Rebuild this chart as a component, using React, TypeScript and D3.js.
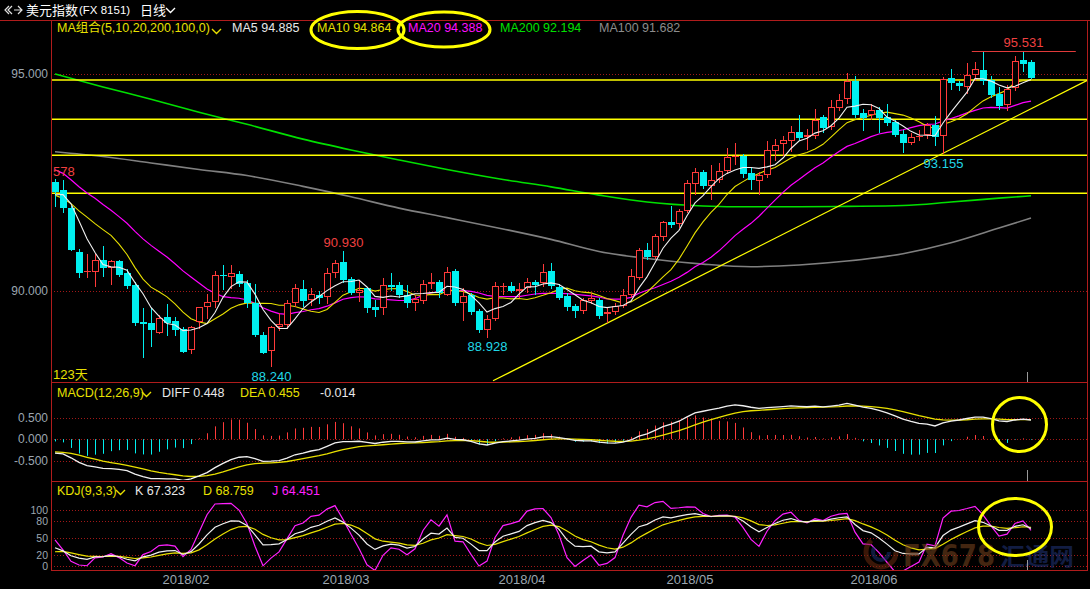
import React from 'react';
import * as d3 from 'd3';

const FONT = '"Liberation Sans", Arial, "Noto Sans CJK SC", sans-serif';

// ---------- data ----------
const firstDay = '2018-01-10';
const lastDay = '2018-06-29';

const open = [92.52, 92.33, 91.91, 90.91, 90.43, 90.44, 90.71, 90.52, 90.69, 90.42,
  90.14, 89.29, 89.26, 89.04, 89.39, 89.32, 89.12, 88.63, 89.29, 89.62,
  89.75, 90.37, 90.33, 90.39, 90.18, 89.72, 88.99, 88.62, 89.17, 89.22,
  89.73, 90.04, 89.79, 89.91, 89.87, 90.41, 90.66, 90.27, 89.96, 90.06,
  89.64, 89.60, 90.14, 90.14, 89.91, 89.73, 89.78, 90.16, 90.20, 89.91,
  90.46, 89.72, 89.91, 89.55, 89.09, 89.36, 90.10, 90.12, 90.01, 90.06,
  90.20, 90.18, 90.46, 90.10, 89.88, 89.65, 89.55, 89.78, 89.79, 89.47,
  89.52, 89.65, 89.91, 90.30, 90.94, 90.79, 91.25, 91.58, 91.54, 91.85,
  92.46, 92.74, 92.43, 92.56, 92.76, 93.08, 93.12, 92.72, 92.54, 92.68,
  93.23, 93.38, 93.46, 93.66, 93.54, 93.57, 94.00, 93.77, 94.21, 94.42,
  94.85, 94.11, 94.06, 94.16, 94.00, 93.90, 93.61, 93.42, 93.54, 93.59,
  93.82, 93.56, 94.90, 94.79, 94.71, 94.98, 95.10, 94.86, 94.55, 94.29,
  94.67, 95.32, 95.27];
const high = [92.57, 92.56, 91.95, 90.96, 90.85, 90.85, 91.04, 90.72, 90.72, 90.50,
  90.20, 89.60, 89.60, 89.45, 89.69, 89.40, 89.18, 89.20, 89.64, 89.92,
  90.45, 90.60, 90.60, 90.45, 90.25, 90.16, 89.05, 89.20, 89.49, 89.80,
  90.16, 90.25, 90.06, 90.00, 90.54, 90.71, 90.93, 90.32, 90.25, 90.10,
  89.79, 90.30, 90.41, 90.20, 90.14, 89.90, 90.25, 90.41, 90.25, 90.55,
  90.50, 90.06, 89.95, 89.58, 89.45, 90.20, 90.19, 90.20, 90.19, 90.30,
  90.25, 90.62, 90.64, 90.15, 89.95, 89.70, 89.85, 89.95, 89.85, 89.60,
  89.72, 90.05, 90.50, 90.98, 91.11, 91.32, 91.62, 91.97, 91.90, 92.55,
  92.83, 92.78, 92.90, 92.95, 93.29, 93.40, 93.15, 92.85, 92.75, 93.46,
  93.50, 93.57, 93.81, 94.06, 93.73, 94.19, 94.05, 94.40, 94.54, 95.03,
  94.95, 94.20, 94.31, 94.25, 94.31, 93.95, 93.70, 93.63, 93.71, 93.86,
  94.03, 94.92, 95.11, 94.85, 95.26, 95.28, 95.50, 94.95, 94.71, 94.75,
  95.41, 95.531, 95.32];
const low = [91.94, 91.79, 90.93, 90.30, 90.31, 90.10, 90.33, 90.14, 90.33, 90.05,
  89.20, 88.46, 88.72, 89.00, 88.97, 88.96, 88.56, 88.55, 89.13, 89.36,
  89.60, 90.02, 90.05, 90.10, 89.60, 88.95, 88.55, 88.24, 89.07, 89.12,
  89.64, 89.63, 89.65, 89.70, 89.70, 90.29, 90.18, 89.90, 89.75, 89.50,
  89.41, 89.45, 90.00, 89.85, 89.60, 89.55, 89.70, 90.05, 89.85, 89.88,
  89.65, 89.30, 89.45, 89.03, 88.928, 89.30, 89.91, 89.95, 89.85, 89.95,
  89.90, 90.10, 90.05, 89.80, 89.55, 89.37, 89.48, 89.70, 89.36, 89.26,
  89.45, 89.60, 89.85, 90.25, 90.71, 90.73, 91.16, 91.45, 91.45, 91.80,
  92.21, 92.35, 92.10, 92.50, 92.70, 92.90, 92.60, 92.33, 92.21, 92.60,
  93.00, 93.12, 93.20, 93.45, 93.25, 93.50, 93.65, 93.70, 94.15, 94.30,
  93.98, 93.69, 93.95, 93.63, 93.80, 93.55, 93.19, 93.36, 93.45, 93.50,
  93.35, 93.155, 94.62, 94.60, 94.55, 94.85, 94.75, 94.45, 94.17, 94.15,
  94.60, 95.05, 94.88];
const close = [92.29, 91.91, 90.94, 90.42, 90.45, 90.71, 90.52, 90.68, 90.37, 90.12,
  89.27, 89.25, 89.10, 89.37, 89.26, 89.10, 88.60, 89.18, 89.62, 89.75,
  90.37, 90.35, 90.42, 90.16, 89.72, 88.99, 88.58, 89.16, 89.23, 89.73,
  90.08, 89.78, 89.92, 89.85, 90.41, 90.64, 90.25, 89.95, 90.02, 89.60,
  89.56, 90.14, 90.10, 89.91, 89.73, 89.81, 90.16, 90.20, 89.95, 90.43,
  89.72, 89.88, 89.52, 89.09, 89.36, 90.12, 90.12, 89.99, 90.04, 90.20,
  90.14, 90.43, 90.12, 89.85, 89.64, 89.53, 89.79, 89.83, 89.42, 89.52,
  89.65, 89.90, 90.35, 90.94, 90.79, 91.27, 91.58, 91.51, 91.84, 92.48,
  92.74, 92.41, 92.56, 92.76, 93.08, 93.12, 92.70, 92.56, 92.67, 93.25,
  93.36, 93.48, 93.66, 93.52, 93.59, 93.94, 93.76, 94.23, 94.40, 94.85,
  94.06, 93.98, 94.16, 93.98, 93.86, 93.59, 93.42, 93.54, 93.57, 93.82,
  93.54, 94.88, 94.79, 94.72, 94.98, 95.11, 94.85, 94.52, 94.27, 94.65,
  95.30, 95.24, 94.90];
// closes of the 19 sessions before the window (seed the short moving averages)
const preCloses = [93.60, 93.90, 93.60, 93.30, 93.20, 93.40, 93.30, 93.30, 93.20, 93.00,
  92.70, 92.10, 92.10, 91.90, 92.20, 91.90, 92.00, 92.40, 92.50];
// long moving averages: [session index, value]
const ma200Pts: [number, number][] = [[0, 95.0], [6, 94.70], [12, 94.42], [18, 94.12], [24, 93.84],
  [31, 93.50], [37, 93.25], [43, 93.02], [49, 92.80], [56, 92.57], [62, 92.40], [68, 92.21],
  [74, 92.05], [81, 91.96], [87, 91.94], [93, 91.94], [99, 91.95], [106, 91.97], [112, 92.05],
  [118, 92.14], [122, 92.194]];
const ma100Pts: [number, number][] = [[0, 93.21], [6, 93.10], [12, 92.95], [18, 92.80], [24, 92.66],
  [31, 92.41], [37, 92.17], [43, 91.91], [49, 91.69], [56, 91.43], [62, 91.19], [68, 90.91],
  [74, 90.75], [81, 90.62], [87, 90.56], [93, 90.60], [99, 90.69], [106, 90.86], [112, 91.11],
  [118, 91.45], [122, 91.682]];
// indicator state just before the first session
const macdSeed = { ema12: 92.5, ema26: 92.83, dea: -0.29 };
const kdjSeed = { k: 20.5, d: 21.5 };

const priceTicks = [95, 90];
const macdTicks = [0.5, 0, -0.5];
const kdjTicks = [100, 80, 50, 20, 0];
const drawnLevels = [94.862, 93.956, 93.127, 92.252];
const trendLine: [number, number][] = [[54.75, 87.93], [129.1, 94.86]];
const highMarkLine: [number, number, number] = [114.6, 127.6, 95.531];

const maHeader = [
  { t: 'MA5 94.885', c: '#e8e8e8', x: 232 },
  { t: 'MA10 94.864', c: '#e8e000', x: 317 },
  { t: 'MA20 94.388', c: '#ff10ff', x: 408 },
  { t: 'MA200 92.194', c: '#00e000', x: 500 },
  { t: 'MA100 91.682', c: '#8c8c8c', x: 599 },
];
const macdHeader = [
  { t: 'DIFF 0.448', c: '#e8e8e8', x: 162 },
  { t: 'DEA 0.455', c: '#e8e000', x: 240 },
  { t: '-0.014', c: '#e8e8e8', x: 320 },
];
const kdjHeader = [
  { t: 'K 67.323', c: '#e8e8e8', x: 135 },
  { t: 'D 68.759', c: '#e8e000', x: 203 },
  { t: 'J 64.451', c: '#ff20ff', x: 272 },
];
// extreme-price labels
const extremeLabels: { i: number; v: number; up: boolean; text: string }[] = [
  { i: 0, v: 92.578, up: true, text: '578' },
  { i: 36, v: 90.93, up: true, text: '90.930' },
  { i: 27, v: 88.24, up: false, text: '88.240' },
  { i: 54, v: 88.928, up: false, text: '88.928' },
  { i: 111, v: 93.155, up: false, text: '93.155' },
  { i: 121, v: 95.531, up: true, text: '95.531' },
];

// ---------- helpers ----------
function tradingDays(a: string, b: string): Date[] {
  const out: Date[] = [];
  const d = new Date(a + 'T00:00:00Z');
  const end = new Date(b + 'T00:00:00Z');
  while (d <= end) {
    const w = d.getUTCDay();
    if (w !== 0 && w !== 6) out.push(new Date(d));
    d.setUTCDate(d.getUTCDate() + 1);
  }
  return out;
}

const UP = '#ff3a3a';
const DOWN = '#00f0f0';
const BORDER = '#b01c1c';
const GRID = '#a01818';
const AXIS_TXT = '#9ca6b0';
const YEL = '#ffff00';

export default function App() {
  const dates = tradingDays(firstDay, lastDay);
  const n = close.length;
  const L = 51, R = 1087;
  const x = d3.scaleLinear().domain([0, n - 1]).range([55, 55 + 8 * (n - 1)]);
  const y = d3.scaleLinear().domain([90, 95]).range([291, 74]);
  const ym = d3.scaleLinear().domain([-0.5, 0.5]).range([460.7, 417.7]);
  const yk = d3.scaleLinear().domain([0, 100]).range([565.7, 510]);

  // moving averages
  const all = [...preCloses, ...close];
  const off = preCloses.length;
  const ma = (p: number) => close.map((_, i) => d3.mean(all.slice(i + off - p + 1, i + off + 1)) as number);
  const ma5 = ma(5), ma10 = ma(10), ma20 = ma(20);

  // MACD
  let e12 = macdSeed.ema12, e26 = macdSeed.ema26, dea = macdSeed.dea;
  const diffArr: number[] = [], deaArr: number[] = [], barArr: number[] = [];
  close.forEach((c) => {
    e12 = e12 + (2 / 13) * (c - e12);
    e26 = e26 + (2 / 27) * (c - e26);
    const df = e12 - e26;
    dea = dea + 0.2 * (df - dea);
    diffArr.push(df); deaArr.push(dea); barArr.push(2 * (df - dea));
  });

  // KDJ
  let k = kdjSeed.k, d = kdjSeed.d;
  const kA: number[] = [], dA: number[] = [], jA: number[] = [];
  close.forEach((c, i) => {
    const s = Math.max(0, i - 8);
    const hh = d3.max(high.slice(s, i + 1)) as number;
    const ll = d3.min(low.slice(s, i + 1)) as number;
    const rsv = hh === ll ? 50 : ((c - ll) / (hh - ll)) * 100;
    k = (2 * k + rsv) / 3;
    d = (2 * d + k) / 3;
    kA.push(k); dA.push(d); jA.push(3 * k - 2 * d);
  });

  const lineOf = (arr: number[], ys: d3.ScaleLinear<number, number>) =>
    d3.line<number>().x((_, i) => x(i)).y((v) => ys(v))(arr) || '';
  const linePts = (pts: [number, number][], ys: d3.ScaleLinear<number, number>) =>
    d3.line<[number, number]>().x((p) => x(p[0])).y((p) => ys(p[1])).curve(d3.curveMonotoneX)(pts) || '';

  const monthTicks = dates
    .map((dt, i) => ({ dt, i }))
    .filter(({ dt, i }) => i > 0 && dt.getUTCMonth() !== dates[i - 1].getUTCMonth());

  const candles = close.map((c, i) => {
    const o = open[i];
    const cx = Math.round(x(i));
    const top = Math.round(y(Math.max(o, c)));
    const bot = Math.round(y(Math.min(o, c)));
    const hy = Math.round(y(high[i]));
    const ly = Math.round(y(low[i]));
    const upCandle = c >= o;
    if (upCandle) {
      const h = Math.max(1, bot - top);
      return (
        <g key={i}>
          <line x1={cx + 0.5} x2={cx + 0.5} y1={hy} y2={top} stroke={UP} strokeWidth={1} />
          <line x1={cx + 0.5} x2={cx + 0.5} y1={bot} y2={ly} stroke={UP} strokeWidth={1} />
          {h <= 1 ? (
            <line x1={cx - 3} x2={cx + 4} y1={top + 0.5} y2={top + 0.5} stroke={UP} strokeWidth={1} />
          ) : (
            <rect x={cx - 2.5} y={top + 0.5} width={6} height={h - 1} fill="#000" stroke={UP} strokeWidth={1} />
          )}
        </g>
      );
    }
    return (
      <g key={i}>
        <line x1={cx + 0.5} x2={cx + 0.5} y1={hy} y2={ly} stroke={DOWN} strokeWidth={1} />
        <rect x={cx - 3} y={top} width={7} height={Math.max(1, bot - top)} fill={DOWN} />
      </g>
    );
  });

  const chevron = (x0: number, y0: number, c: string) => (
    <polyline points={`${x0},${y0} ${x0 + 4.5},${y0 + 4.5} ${x0 + 9},${y0}`} fill="none" stroke={c} strokeWidth={1.4} />
  );

  return (
    <svg width={1090} height={589} style={{ position: 'fixed', left: 0, top: 0, background: '#000', display: 'block' }}
      fontFamily={FONT}>
      <defs>
        <clipPath id="cMain"><rect x={L + 1} y={21} width={R - L - 1} height={361} /></clipPath>
        <clipPath id="cMacd"><rect x={L + 1} y={383} width={R - L - 1} height={97} /></clipPath>
        <clipPath id="cKdj"><rect x={L + 1} y={482} width={R - L - 1} height={88} /></clipPath>
      </defs>
      <rect x={0} y={0} width={1090} height={589} fill="#000" />

      {/* title bar */}
      <g stroke="#e0e0e0" strokeWidth={1.2} fill="none">
        <path d="M9,6 L5,10 L9,14 M12,6 L8,10 L12,14" />
        <path d="M14,10 L22,10 M18,6 L22,10 L18,14" />
      </g>
      <text x={26} y={10} fill="#ffffff" fontSize={13} dominantBaseline="central">美元指数</text>
      <text x={79} y={10} fill="#ffffff" fontSize={11.5} dominantBaseline="central">(FX 8151)</text>
      <text x={140} y={10} fill="#ffffff" fontSize={13} dominantBaseline="central">日线</text>
      {chevron(166, 8, '#ffffff')}

      {/* grid lines */}
      {priceTicks.map((t) => (
        <line key={'pg' + t} x1={L} x2={R} y1={Math.round(y(t)) + 0.5} y2={Math.round(y(t)) + 0.5} stroke={GRID} strokeDasharray="1,2" />
      ))}
      {macdTicks.map((t) => (
        <line key={'mg' + t} x1={L} x2={R} y1={Math.round(ym(t)) + 0.5} y2={Math.round(ym(t)) + 0.5} stroke={GRID} strokeDasharray="1,2" />
      ))}
      {kdjTicks.map((t) => (
        <line key={'kg' + t} x1={L} x2={R} y1={Math.round(yk(t)) + 0.5} y2={Math.round(yk(t)) + 0.5} stroke={GRID} strokeDasharray="1,2" />
      ))}

      {/* axis labels */}
      {priceTicks.map((t) => (
        <text key={'pt' + t} x={48} y={y(t)} fill={AXIS_TXT} fontSize={12} textAnchor="end" dominantBaseline="central">{t.toFixed(3)}</text>
      ))}
      {macdTicks.map((t) => (
        <text key={'mt' + t} x={48} y={ym(t)} fill={AXIS_TXT} fontSize={12} textAnchor="end" dominantBaseline="central">{t.toFixed(3)}</text>
      ))}
      {kdjTicks.map((t) => (
        <text key={'kt' + t} x={48} y={yk(t)} fill={AXIS_TXT} fontSize={10.5} textAnchor="end" dominantBaseline="central">{t}</text>
      ))}
      {monthTicks.map(({ dt, i }) => (
        <text key={'m' + i} x={x(i) + 3} y={579} fill={AXIS_TXT} fontSize={13} textAnchor="middle" dominantBaseline="central">
          {`${dt.getUTCFullYear()}/${String(dt.getUTCMonth() + 1).padStart(2, '0')}`}
        </text>
      ))}

      {/* main panel */}
      <g clipPath="url(#cMain)">
        <path d={linePts(ma100Pts, y)} fill="none" stroke="#808080" strokeWidth={1.6} />
        <path d={linePts(ma200Pts, y)} fill="none" stroke="#00e000" strokeWidth={1.6} />
        {drawnLevels.map((v) => (
          <line key={'lv' + v} x1={L} x2={R} y1={y(v)} y2={y(v)} stroke={YEL} strokeWidth={1.5} />
        ))}
        <line x1={x(trendLine[0][0])} y1={y(trendLine[0][1])} x2={x(trendLine[1][0])} y2={y(trendLine[1][1])} stroke={YEL} strokeWidth={1.2} />
        <path d={lineOf(ma20, y)} fill="none" stroke="#ff00ff" strokeWidth={1.2} />
        <path d={lineOf(ma10, y)} fill="none" stroke="#e8e000" strokeWidth={1.1} />
        {candles}
        <path d={lineOf(ma5, y)} fill="none" stroke="#f0f0f0" strokeWidth={1.1} />
        <line x1={x(highMarkLine[0])} x2={x(highMarkLine[1])} y1={Math.round(y(highMarkLine[2])) + 0.5} y2={Math.round(y(highMarkLine[2])) + 0.5} stroke="#e03a3a" strokeWidth={1} />
        {extremeLabels.map((lb) => (
          <text key={'el' + lb.i} x={lb.i === 0 ? 53 : x(lb.i) + 0.5} y={y(lb.v) + (lb.up ? -8 : 9)}
            fill={lb.up ? '#f04040' : '#20d8e8'} fontSize={13} textAnchor={lb.i === 0 ? 'start' : 'middle'} dominantBaseline="central">
            {lb.text}
          </text>
        ))}
      </g>
      <text x={53} y={374} fill="#e8e000" fontSize={13} dominantBaseline="central">123天</text>

      {/* MA header */}
      <text x={57} y={28} fill="#e8e000" fontSize={12.5} dominantBaseline="central">MA组合(5,10,20,200,100,0)</text>
      {chevron(212, 29, '#e8e000')}
      {maHeader.map((h) => (
        <text key={h.t} x={h.x} y={28} fill={h.c} fontSize={12.5} dominantBaseline="central">{h.t}</text>
      ))}

      {/* MACD panel */}
      <g clipPath="url(#cMacd)">
        {barArr.map((b, i) => (
          <line key={'b' + i} x1={Math.round(x(i)) + 0.5} x2={Math.round(x(i)) + 0.5} y1={ym(0)} y2={ym(b)}
            stroke={b >= 0 ? UP : DOWN} strokeWidth={1} />
        ))}
        <path d={lineOf(deaArr, ym)} fill="none" stroke="#e8e000" strokeWidth={1.3} />
        <path d={lineOf(diffArr, ym)} fill="none" stroke="#f0f0f0" strokeWidth={1.3} />
      </g>
      <text x={57} y={392.5} fill="#e8e000" fontSize={12.5} dominantBaseline="central">MACD(12,26,9)</text>
      {chevron(142, 392, '#e8e000')}
      {macdHeader.map((h) => (
        <text key={h.t} x={h.x} y={392.5} fill={h.c} fontSize={12.5} dominantBaseline="central">{h.t}</text>
      ))}

      {/* KDJ panel */}
      <g clipPath="url(#cKdj)">
        <path d={lineOf(jA, yk)} fill="none" stroke="#ff20ff" strokeWidth={1.2} />
        <path d={lineOf(dA, yk)} fill="none" stroke="#e8e000" strokeWidth={1.2} />
        <path d={lineOf(kA, yk)} fill="none" stroke="#f0f0f0" strokeWidth={1.2} />
      </g>
      <text x={57} y={491} fill="#e8e000" fontSize={12.5} dominantBaseline="central">KDJ(9,3,3)</text>
      {chevron(116, 490, '#e8e000')}
      {kdjHeader.map((h) => (
        <text key={h.t} x={h.x} y={491} fill={h.c} fontSize={12.5} dominantBaseline="central">{h.t}</text>
      ))}

      {/* watermark */}
      <g opacity={0.55}>
        <circle cx={881} cy={552} r={15} fill="none" stroke="#6a2a10" strokeWidth={5} strokeDasharray="60,40" />
        <circle cx={881} cy={552} r={8} fill="none" stroke="#1a3070" strokeWidth={4} strokeDasharray="30,20" />
        <text x={903} y={566} fill="#7a4520" fontSize={30} fontWeight="bold" textLength={92} lengthAdjust="spacingAndGlyphs"
          fontFamily='"DejaVu Sans Condensed", "Liberation Sans Narrow", sans-serif'>FX678</text>
        <text x={1000} y={565} fill="#22357a" fontSize={24} fontWeight="bold" textLength={74} lengthAdjust="spacingAndGlyphs"
          fontFamily='"Noto Sans CJK SC", sans-serif'>汇通网</text>
      </g>

      {/* borders */}
      <line x1={0} x2={1090} y1={20.5} y2={20.5} stroke={BORDER} strokeWidth={1} />
      <line x1={L} x2={R} y1={382.5} y2={382.5} stroke={BORDER} strokeWidth={1} />
      <line x1={L} x2={R} y1={481.5} y2={481.5} stroke={BORDER} strokeWidth={1} />
      <line x1={L} x2={R} y1={570.5} y2={570.5} stroke={BORDER} strokeWidth={1} />
      <line x1={L + 0.5} x2={L + 0.5} y1={20} y2={571} stroke={BORDER} strokeWidth={1} />
      <line x1={R + 0.5} x2={R + 0.5} y1={20} y2={571} stroke={BORDER} strokeWidth={1} />

      {/* cursor ticks */}
      <g stroke="#9a9a9a" strokeWidth={1}>
        <line x1={1027.5} x2={1027.5} y1={372} y2={382} />
        <line x1={1027.5} x2={1027.5} y1={470} y2={481} />
        <line x1={1027.5} x2={1027.5} y1={560} y2={570} />
      </g>

      {/* annotation ellipses */}
      <g fill="none" stroke={YEL} strokeWidth={3}>
        <ellipse cx={357.5} cy={30} rx={46.5} ry={18.5} />
        <ellipse cx={444} cy={29.5} rx={46} ry={17.5} />
        <ellipse cx={1019.5} cy={424.5} rx={27} ry={27} />
        <ellipse cx={1015} cy={527} rx={36.5} ry={28.5} />
      </g>
    </svg>
  );
}
